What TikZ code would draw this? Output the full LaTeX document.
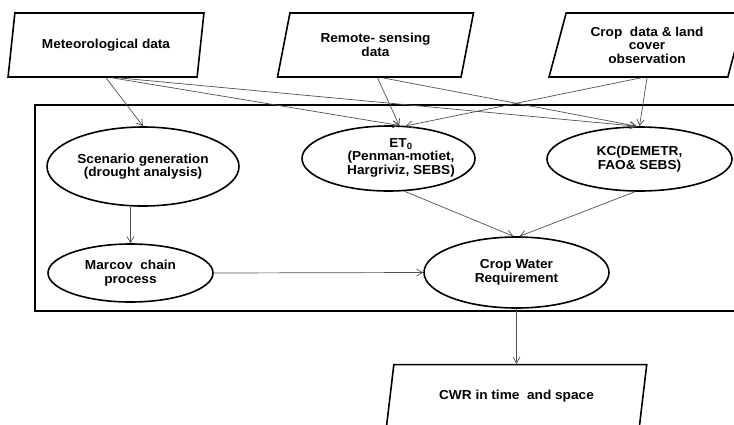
\documentclass[tikz,border=0pt]{standalone}
\usepackage{fontspec}
\setmainfont{Liberation Sans}[FakeStretch=1.05]
\usetikzlibrary{arrows.meta, positioning, shapes.geometric}
\definecolor{flowline}{HTML}{505050}
\tikzset{
  datain/.style={trapezium, trapezium left angle=73, trapezium right angle=107,
    trapezium stretches=true, draw, line width=1.6pt, minimum width=196pt,
    minimum height=64pt, align=center, inner sep=2pt},
  proc/.style={ellipse, draw, line width=1.6pt, align=center, inner sep=0pt},
  flow/.style={->, draw=flowline, line width=0.7pt},
}

\begin{document}
\begin{tikzpicture}[x=1pt, y=-1pt, >={Straight Barb[length=6pt,width=7pt]},
  font=\fontsize{13pt}{13.5pt}\selectfont\bfseries]
  \useasboundingbox (0,0) rectangle (734,424);
  \clip (0,0) rectangle (734,424);
  % input data
  \node[datain] (met) at (106,45) {Meteorological data};
  \node[datain] (rem) at (375.5,45) {Remote- sensing\\data};
  \node[datain] (crop) at (647,45) {Crop\ \ data \& land\\cover\\observation};
  % model frame
  \draw[line width=1.6pt] (35,105) rectangle (760,311);
  \node[proc, minimum width=192pt, minimum height=79pt] (scen) at (143,166.5) {Scenario generation\\(drought analysis)};
  \node[proc, minimum width=173pt, minimum height=65pt] (et) at (388.5,158.5) {};
  \node[align=center] (etlabel) at (401,157.5) {ET\textsubscript{0}\\(Penman-motiet,\\Hargriviz, SEBS)};
  \node[proc, minimum width=185pt, minimum height=64pt] (kc) at (639.5,159) {KC(DEMETR,\\FAO\& SEBS)};
  \node[proc, minimum width=165pt, minimum height=58pt] (marcov) at (130.5,273) {Marcov\ \ chain\\process};
  \node[proc, minimum width=185pt, minimum height=71pt] (cwr) at (516.5,272.5) {Crop Water\\Requirement};
  % output
  \node[datain, minimum width=261pt, below=55pt of cwr] (out) {CWR in time\ \ and space};
  % connectors
  \draw[flow] (met.south) -- (scen.north);
  \draw[flow] ([xshift=6pt]met.south) -- (et.72);
  \draw[flow] ([xshift=12pt]met.south) -- (kc.95);
  \draw[flow] ([xshift=2pt]rem.south) -- (et.72);
  \draw[flow] ([xshift=7pt]rem.south) -- (kc.95);
  \draw[flow] ([xshift=-6pt]crop.south) -- (et.62);
  \draw[flow] (crop.south) -- (kc.north);
  \draw[flow] (marcov.north |- scen.south) -- (marcov.north);
  \draw[flow] (et.-64) -- (cwr.95);
  \draw[flow] (kc.-98) -- (cwr.85);
  \draw[flow] (marcov.east) -- (cwr.west);
  \draw[flow] (cwr.south) -- (out.north);
\end{tikzpicture}
\end{document}
